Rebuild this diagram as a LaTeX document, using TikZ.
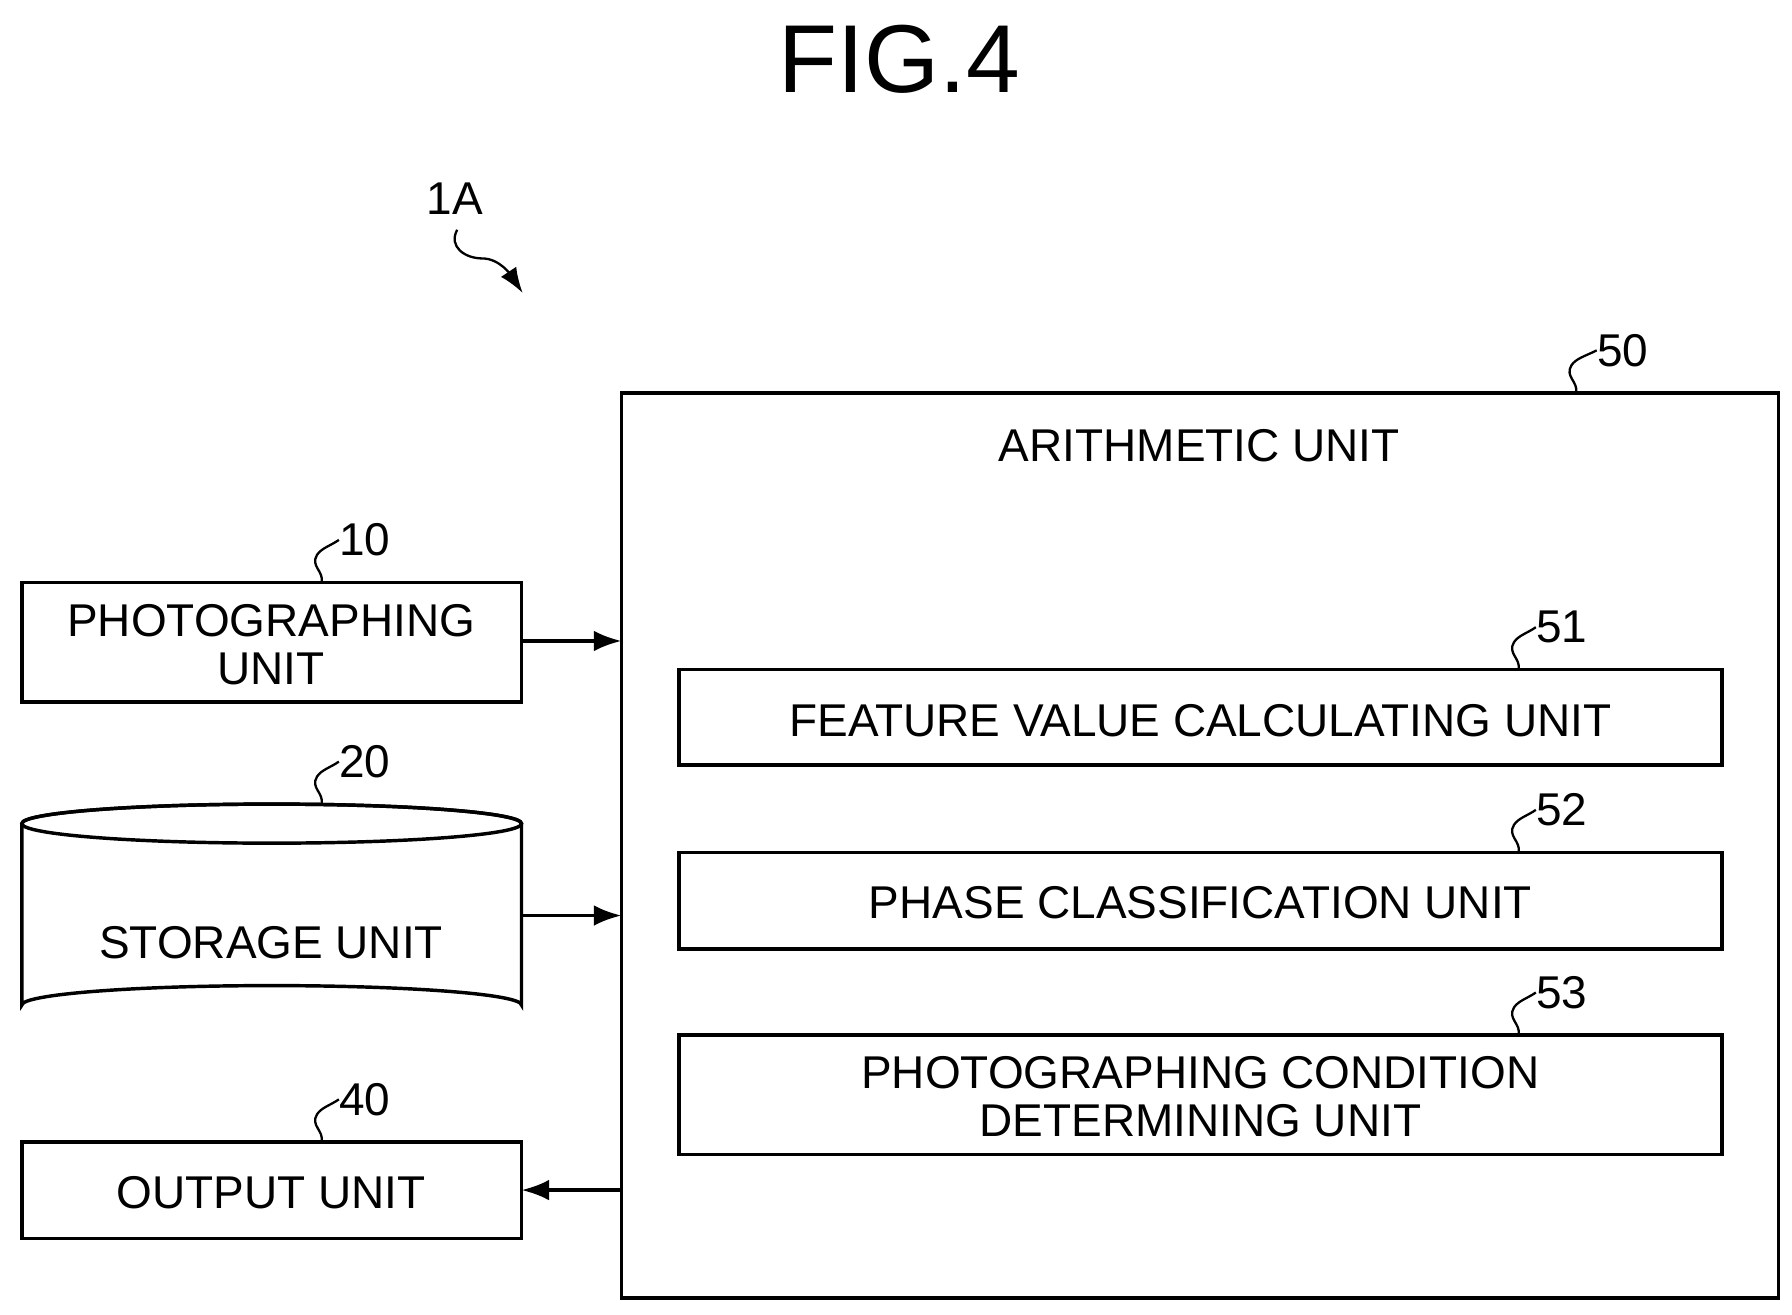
\documentclass[tikz,border=0pt]{standalone}
\usepackage{fontspec}
\setmainfont{Liberation Sans}
\begin{document}
\begin{tikzpicture}[x=0.5pt,y=-0.5pt,
 box/.style={draw,line width=1.5pt},
 txt/.style={font=\fontsize{20}{21}\selectfont,align=center,inner sep=0},
 num/.style={font=\fontsize{20}{21}\selectfont,inner sep=0,anchor=west},
 lead/.style={line width=1pt},
 arr/.style={line width=1.5pt,-{Latex[length=12pt,width=9pt]}}]
\usetikzlibrary{arrows.meta}
\useasboundingbox (0,0) rectangle (1560,1144);
\node[font=\fontsize{42}{44}\selectfont,inner sep=0] (fig) at (783,52) {FIG.4};
\node[num,anchor=center] (n1a) at (396,173) {1A};
\coordinate (a1) at (398,200); \coordinate (a2) at (455,255);
\draw[line width=1pt,-{Latex[length=11pt,width=8pt]}] (a1) .. controls (390,215) and (405,225) .. (420,225) .. controls (435,225) and (445,240) .. (a2);
% arithmetic unit
\draw[box] (541,342) rectangle (1548,1130);
\node[txt] (ar) at (1044,388) {ARITHMETIC UNIT};
\coordinate (b50) at (1372,342);
\node[num] (l50) at (1390,305) {50};
\draw[lead] (b50) .. controls (1374,332) and (1362,328) .. (1368,318) .. controls (1372,312) and (1380,310) .. (l50.west);
% left boxes
\draw[box] (19,507) rectangle (454,611) coordinate (pbr);
\node[txt] (p) at (236,561) {PHOTOGRAPHING\\UNIT};
\draw[box] (19,994) rectangle (454,1078);
\node[txt] (o) at (236,1038) {OUTPUT UNIT};
\draw[box] (19,717) arc[start angle=180,end angle=360,x radius=217.5,y radius=17] -- (454,875) arc[start angle=0,end angle=-180,x radius=217.5,y radius=17] -- cycle;
\draw[box] (236.5,717) ellipse[x radius=217.5,y radius=17];
\node[txt] (s) at (236,821) {STORAGE UNIT};
% inner
\draw[box] (591,583) rectangle (1499,666);
\node[txt] (f) at (1045,627) {FEATURE VALUE CALCULATING UNIT};
\draw[box] (591,742) rectangle (1499,826);
\node[txt] (ph) at (1045,786) {PHASE CLASSIFICATION UNIT};
\draw[box] (591,901) rectangle (1499,1005);
\node[txt] (pc) at (1045,955) {PHOTOGRAPHING CONDITION\\DETERMINING UNIT};
% leaders
\foreach \x/\y/\t in {280/507/10,280/700/20,280/994/40,1322/583/51,1322/742/52,1322/901/53}{
 \node[num] (L\t) at (\x+15,\y-37) {\t};
 \draw[lead] (\x,\y) .. controls (\x+2,\y-10) and (\x-10,\y-14) .. (\x-4,\y-24) .. controls (\x,\y-30) and (\x+8,\y-32) .. (L\t.west);
}
% arrows
\coordinate (e1) at (541,558); \coordinate (e2) at (541,797); \coordinate (e3) at (541,1036);
\draw[arr] (454,558) -- (e1);
\draw[arr] (454,797) -- (e2);
\draw[arr] (e3) -- (454,1036);
\end{tikzpicture}
\end{document}
